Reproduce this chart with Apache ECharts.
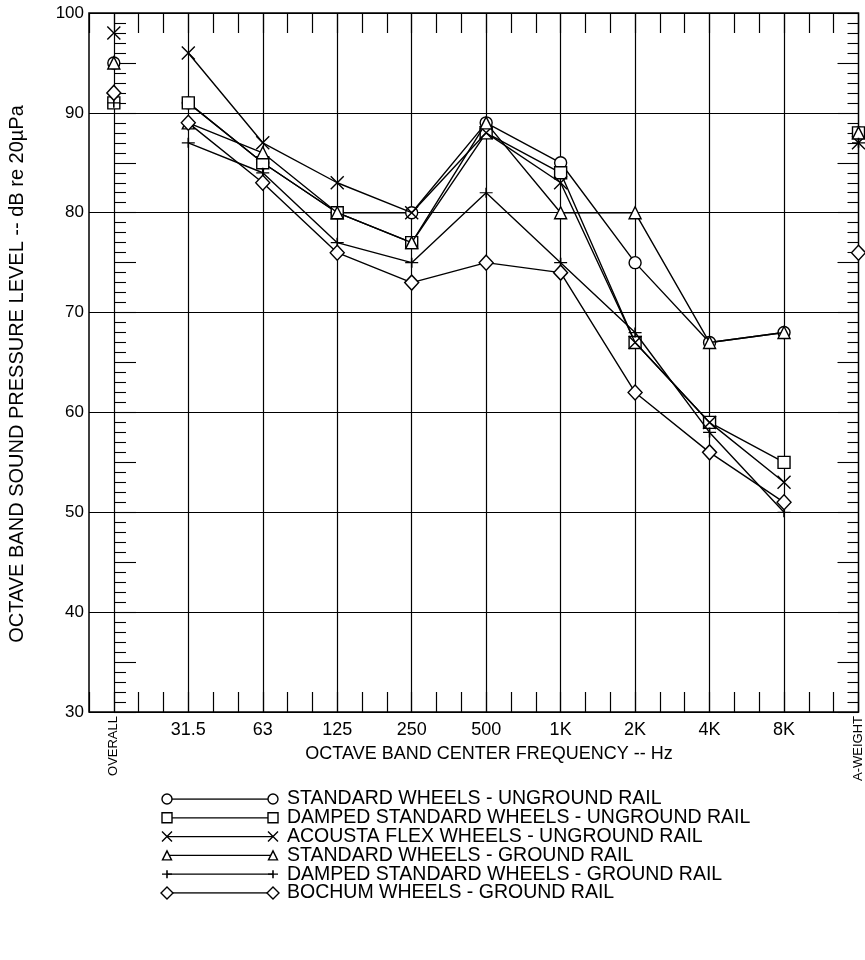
<!DOCTYPE html>
<html>
<head>
<meta charset="utf-8">
<script src="https://cdn.jsdelivr.net/npm/echarts@6/dist/echarts.min.js"></script>
<style>
html,body{margin:0;padding:0;background:#fff;}
#chart{width:865px;height:960px;}
</style>
</head>
<body>
<div id="chart"></div>
<script>
// ---- data ----
const freqLabels = ['31.5', '63', '125', '250', '500', '1K', '2K', '4K', '8K'];
const endLabels = ['OVERALL', 'A-WEIGHT'];
const legendNames = [
  'STANDARD WHEELS - UNGROUND RAIL',
  'DAMPED STANDARD WHEELS - UNGROUND RAIL',
  'ACOUSTA FLEX WHEELS - UNGROUND RAIL',
  'STANDARD WHEELS - GROUND RAIL',
  'DAMPED STANDARD WHEELS - GROUND RAIL',
  'BOCHUM WHEELS - GROUND RAIL'
];
const yTitle = 'OCTAVE BAND SOUND PRESSURE LEVEL -- dB re 20µPa';
const xTitle = 'OCTAVE BAND CENTER FREQUENCY -- Hz';
// octave band values 31.5 .. 8K
const stdUngroundBands    = [91, 85, 80, 80, 89, 85, 75, 67, 68];
const dampedUngroundBands = [91, 85, 80, 77, 88, 84, 67, 59, 55];
const acoustaBands        = [96, 87, 83, 80, 88, 83, 67, 59, 53];
const stdGroundBands      = [89, 86, 80, 77, 89, 80, 80, 67, 68];
const dampedGroundBands   = [87, 84, 77, 75, 82, 75, 68, 58, 50];
const bochumBands         = [89, 83, 76, 73, 75, 74, 62, 56, 51];
// [OVERALL, A-WEIGHT]
const stdUngroundEnds    = [95, 88];
const dampedUngroundEnds = [91, 88];
const acoustaEnds        = [98, 87];
const stdGroundEnds      = [95, 88];
const dampedGroundEnds   = [91, 87];
const bochumEnds         = [92, 76];

// ---- axis layout: category slots of 1/3 band ----
const NSLOT = 32;               // slot 0 = left edge, 31 = right edge
const OVERALL_SLOT = 1, AW_SLOT = 31;
const bandSlot = k => 4 + 3 * k;
const slots = Array.from({length: NSLOT}, (_, i) => 's' + i);
const bandLabelAt = {};
freqLabels.forEach((l, k) => { bandLabelAt[bandSlot(k)] = l; });
const endLabelAt = {};
endLabelAt[OVERALL_SLOT] = endLabels[0];
endLabelAt[AW_SLOT] = endLabels[1];

const FONT = 'Liberation Sans, Arial, Helvetica, sans-serif';
const BLACK = '#000';

const X_PATH = 'path://M0,0L12,12M12,0L0,12';
const PLUS_PATH = 'path://M0,5L12,5M6,1L6,9';
const symbols = [
  {symbol: 'circle', size: 12},
  {symbol: 'rect', size: 12},
  {symbol: X_PATH, size: 13},
  {symbol: 'triangle', size: 12},
  {symbol: PLUS_PATH, size: [13, 10]},
  {symbol: 'diamond', size: [14, 15]}
];
const legendSymbols = [
  {symbol: 'circle', size: 10},
  {symbol: 'rect', size: 10},
  {symbol: X_PATH, size: 10},
  {symbol: 'triangle', size: 9},
  {symbol: PLUS_PATH, size: [10, 8]},
  {symbol: 'diamond', size: [12, 12]}
];
const bandSets = [stdUngroundBands, dampedUngroundBands, acoustaBands, stdGroundBands, dampedGroundBands, bochumBands];
const endSets = [stdUngroundEnds, dampedUngroundEnds, acoustaEnds, stdGroundEnds, dampedGroundEnds, bochumEnds];

const markerStyle = {color: '#fff', borderColor: BLACK, borderWidth: 1.4, opacity: 1};

const series = [];
bandSets.forEach((vals, s) => {
  series.push({
    type: 'line', xAxisIndex: 0, yAxisIndex: 0,
    name: legendNames[s],
    data: vals.map((v, k) => [bandSlot(k), v]),
    symbol: symbols[s].symbol, symbolSize: symbols[s].size,
    showAllSymbol: true,
    itemStyle: markerStyle,
    lineStyle: {color: BLACK, width: 1.4},
    emphasis: {disabled: true},
    z: 3 + s
  });
  series.push({
    type: 'scatter', xAxisIndex: 0, yAxisIndex: 0,
    data: [[OVERALL_SLOT, endSets[s][0]], [AW_SLOT, endSets[s][1]]],
    symbol: symbols[s].symbol, symbolSize: symbols[s].size,
    itemStyle: markerStyle,
    clip: false,
    emphasis: {disabled: true},
    z: 3 + s
  });
  // legend row
  series.push({
    type: 'line', xAxisIndex: 3, yAxisIndex: 3,
    data: [[0, s], [1, s]],
    symbol: legendSymbols[s].symbol, symbolSize: legendSymbols[s].size,
    showAllSymbol: true,
    itemStyle: markerStyle,
    lineStyle: {color: BLACK, width: 1.3},
    emphasis: {disabled: true}
  });
});

const chart = echarts.init(document.getElementById('chart'), null, {renderer: 'canvas'});
chart.setOption({
  animation: false,
  backgroundColor: '#fff',
  textStyle: {fontFamily: FONT, color: BLACK},
  grid: [
    {left: 89, top: 13, width: 774, height: 699, show: true, borderColor: BLACK, borderWidth: 1.5, backgroundColor: 'transparent'},
    {left: 167, top: 799, width: 106, height: 94, show: false}
  ],
  xAxis: [
    { // main bottom axis with band labels
      type: 'category', gridIndex: 0, position: 'bottom', data: slots, boundaryGap: false,
      axisLine: {show: false},
      axisTick: {show: true, inside: true, length: 20, interval: 0, lineStyle: {color: BLACK, width: 1.2}},
      axisLabel: {interval: 0, margin: 9, fontSize: 18, color: BLACK, fontFamily: FONT,
        formatter: (v, i) => bandLabelAt[i] || ''},
      splitLine: {show: true, interval: (i) => i >= OVERALL_SLOT && i <= bandSlot(8) && (i - 1) % 3 === 0,
        lineStyle: {color: BLACK, width: 1.2}}
    },
    { // top axis ticks
      type: 'category', gridIndex: 0, position: 'top', data: slots, boundaryGap: false,
      axisLine: {show: false},
      axisTick: {show: true, inside: true, length: 20, interval: 0, lineStyle: {color: BLACK, width: 1.2}},
      axisLabel: {show: false}, splitLine: {show: false}
    },
    { // rotated end labels
      type: 'category', gridIndex: 0, position: 'bottom', data: slots, boundaryGap: false,
      axisLine: {show: false}, axisTick: {show: false}, splitLine: {show: false},
      axisLabel: {interval: 0, rotate: 90, margin: 4, fontSize: 13, color: BLACK, fontFamily: FONT,
        formatter: (v, i) => endLabelAt[i] || ''}
    },
    { // legend grid x
      type: 'value', gridIndex: 1, min: 0, max: 1, show: false
    }
  ],
  yAxis: [
    {
      type: 'value', gridIndex: 0, position: 'left', min: 30, max: 100, interval: 10,
      axisLine: {show: false}, axisTick: {show: false},
      axisLabel: {margin: 5, fontSize: 17, color: BLACK, fontFamily: FONT},
      splitLine: {show: true, lineStyle: {color: BLACK, width: 1.2}}
    },
    { // ticks along OVERALL line
      type: 'value', gridIndex: 0, position: 'left', offset: -25, min: 30, max: 100, interval: 5,
      axisLine: {show: false}, axisLabel: {show: false}, splitLine: {show: false},
      axisTick: {show: true, inside: true, length: 22, lineStyle: {color: BLACK, width: 1.1}},
      minorTick: {show: true, splitNumber: 5, length: 12, lineStyle: {color: BLACK, width: 1.1}}
    },
    { // ticks along right border
      type: 'value', gridIndex: 0, position: 'right', min: 30, max: 100, interval: 5,
      axisLine: {show: false}, axisLabel: {show: false}, splitLine: {show: false},
      axisTick: {show: true, inside: true, length: 21, lineStyle: {color: BLACK, width: 1.1}},
      minorTick: {show: true, splitNumber: 5, length: 11, lineStyle: {color: BLACK, width: 1.1}}
    },
    { // legend rows
      type: 'category', gridIndex: 1, position: 'right', data: legendNames, inverse: true, boundaryGap: false,
      axisLine: {show: false}, axisTick: {show: false}, splitLine: {show: false},
      axisLabel: {interval: 0, hideOverlap: false, margin: 14, fontSize: 19.5, color: BLACK, fontFamily: FONT, align: 'left'}
    }
  ],
  graphic: [
    {type: 'text', x: 489, y: 754, style: {text: xTitle, font: '18px ' + FONT, fill: BLACK, align: 'center', verticalAlign: 'middle'}},
    {type: 'text', x: 17, y: 374, rotation: Math.PI / 2, style: {text: yTitle, font: '20px ' + FONT, fill: BLACK, align: 'center', verticalAlign: 'middle'}}
  ],
  series: series
});
</script>
</body>
</html>
